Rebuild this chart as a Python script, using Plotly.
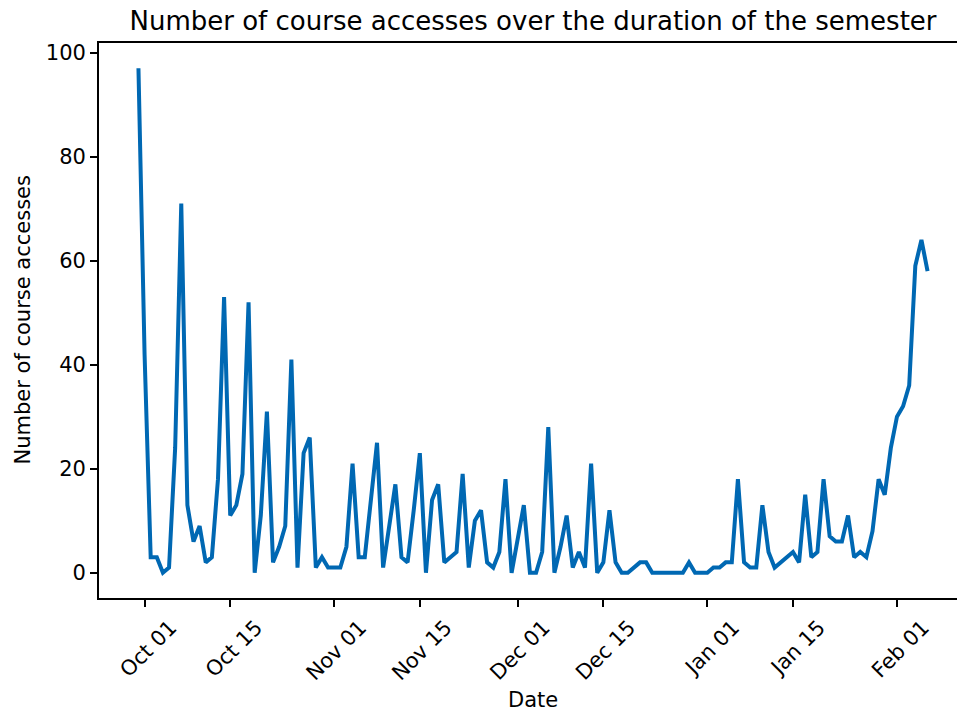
import pandas as pd
import plotly.graph_objects as go

# Daily course accesses, Sep 30 through Feb 6
start_date = "2022-09-30"
sep_counts = [97]
oct_counts = [42, 3, 3, 0, 1, 24, 71, 13, 6, 9, 2, 3, 18, 53, 11, 13, 19, 52, 0, 11,
              31, 2, 5, 9, 41, 1, 23, 26, 1, 3, 1]
nov_counts = [1, 1, 5, 21, 3, 3, 14, 25, 1, 9, 17, 3, 2, 12, 23, 0, 14, 17, 2, 3,
              4, 19, 1, 10, 12, 2, 1, 4, 18, 0]
dec_counts = [7, 13, 0, 0, 4, 28, 0, 5, 11, 1, 4, 1, 21, 0, 2, 12, 2, 0, 0, 1,
              2, 2, 0, 0, 0, 0, 0, 0, 2, 0, 0]
jan_counts = [0, 1, 1, 2, 2, 18, 2, 1, 1, 13, 4, 1, 2, 3, 4, 2, 15, 3, 4, 18,
              7, 6, 6, 11, 3, 4, 3, 8, 18, 15, 24]
feb_counts = [30, 32, 36, 59, 64, 58]

accesses = sep_counts + oct_counts + nov_counts + dec_counts + jan_counts + feb_counts
dates = pd.date_range(start_date, periods=len(accesses), freq="D")

tick_dates = ["2022-10-01", "2022-10-15", "2022-11-01", "2022-11-15", "2022-12-01",
              "2022-12-15", "2023-01-01", "2023-01-15", "2023-02-01"]
y_ticks = [0, 20, 40, 60, 80, 100]

FONT = "DejaVu Sans"
LINE_BLUE = "#0068b3"

# Figure geometry (px)
W, H = 957, 711
L, R, T, B = 99, 0, 43, 113
plot_w = W - L - R
full_w = 868  # full axes width; the right spine falls outside the canvas

# 5% autoscale margins on both axes
span = dates[-1] - dates[0]
x0 = dates[0] - span * 0.05
x1_full = dates[-1] + span * 0.05
x1 = x0 + (x1_full - x0) * (plot_w / full_w)

ypad = 0.05 * (max(accesses) - min(accesses))
y0, y1 = min(accesses) - ypad, max(accesses) + ypad

fig = go.Figure(
    go.Scatter(
        x=dates,
        y=accesses,
        mode="lines",
        line=dict(color=LINE_BLUE, width=4),
        hoverinfo="x+y",
    )
)

axis_common = dict(
    showgrid=False,
    zeroline=False,
    showline=True,
    linecolor="black",
    linewidth=1.7,
    ticks="outside",
    ticklen=7,
    tickwidth=1.7,
    tickcolor="black",
    tickfont=dict(family=FONT, size=21, color="black"),
)

fig.update_xaxes(
    type="date",
    range=[x0, x1],
    tickvals=tick_dates,
    tickformat="%b %d",
    tickangle=-45,
    ticklabelshift=26,
    mirror=True,
    **axis_common,
)
fig.update_yaxes(
    range=[y0, y1],
    tickvals=y_ticks,
    mirror=False,
    **axis_common,
)

axes_center_x = (L + L + full_w) / 2

fig.update_layout(
    width=W,
    height=H,
    margin=dict(l=L, r=R, t=T, b=B, pad=0),
    paper_bgcolor="white",
    plot_bgcolor="white",
    showlegend=False,
    title=dict(
        text="Number of course accesses over the duration of the semester",
        font=dict(family=FONT, size=26, color="black"),
        xref="container",
        x=axes_center_x / W,
        xanchor="center",
        yref="container",
        y=1 - 21 / H,
        yanchor="middle",
    ),
    annotations=[
        dict(
            text="Date",
            font=dict(family=FONT, size=21, color="black"),
            xref="paper", yref="paper",
            x=(axes_center_x - L) / plot_w,
            y=-(700 - (H - B)) / (H - T - B),
            xanchor="center", yanchor="middle",
            showarrow=False,
        ),
        dict(
            text="Number of course accesses",
            font=dict(family=FONT, size=21, color="black"),
            textangle=-90,
            xref="paper", yref="paper",
            x=(22 - L) / plot_w,
            y=0.5,
            xanchor="center", yanchor="middle",
            showarrow=False,
        ),
    ],
)

fig.write_html("out.html")
